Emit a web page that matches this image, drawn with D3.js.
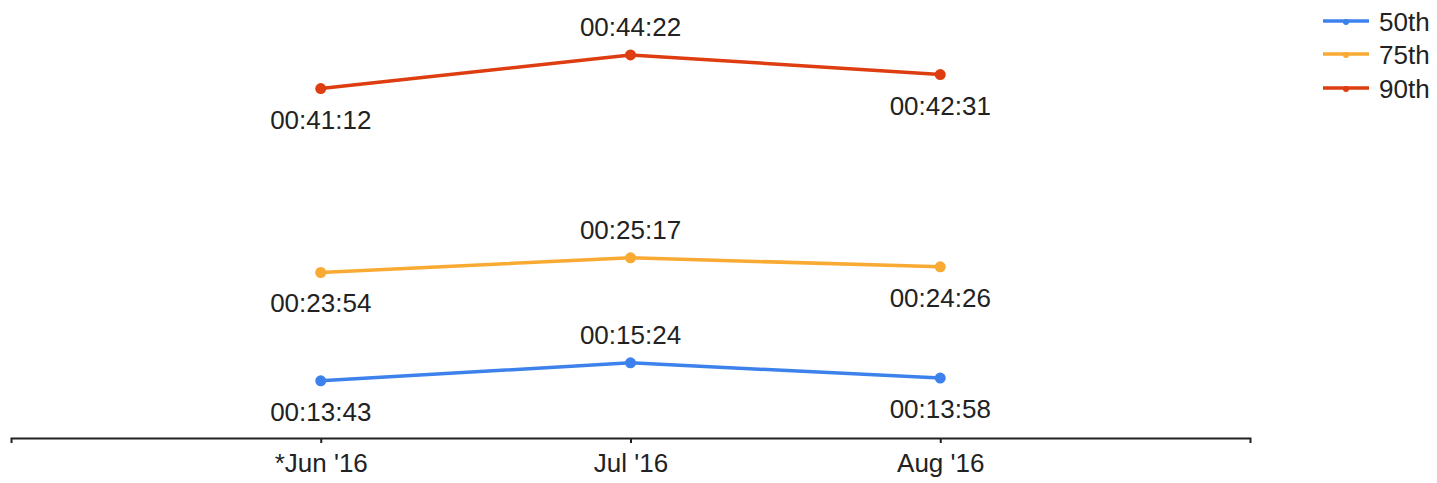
<!DOCTYPE html>
<html>
<head>
<meta charset="utf-8">
<script src="https://cdn.jsdelivr.net/npm/d3@7/dist/d3.min.js"></script>
<style>
  html, body { margin: 0; padding: 0; background: #fff; }
  svg { display: block; font-family: "Liberation Sans", Arial, sans-serif; }
</style>
</head>
<body>
<svg id="chart" width="1437" height="483"></svg>
<script>
// Months on the x axis
const months = ["*Jun '16", "Jul '16", "Aug '16"];

// Percentile durations, "hh:mm:ss"
const p50 = ["00:13:43", "00:15:24", "00:13:58"];
const p75 = ["00:23:54", "00:25:17", "00:24:26"];
const p90 = ["00:41:12", "00:44:22", "00:42:31"];

const seriesNames = ["50th", "75th", "90th"];
const seriesColors = ["#3d82ec", "#f9aa33", "#dd3d10"];

const toSeconds = s => s.split(":").reduce((acc, v) => acc * 60 + (+v), 0);

const series = [p50, p75, p90].map((vals, i) => ({
  name: seriesNames[i],
  color: seriesColors[i],
  points: vals.map((label, j) => ({ month: months[j], label, value: toSeconds(label) }))
}));

const FONT = "26px";
const svg = d3.select("#chart");

const x = d3.scalePoint().domain(months).range([11, 1250]).padding(1);
const y = d3.scaleLinear().domain([500, 3000]).range([438, -5]);

// x axis
const axis = svg.append("g")
  .attr("transform", "translate(0,438)")
  .call(d3.axisBottom(x).tickSize(5).tickSizeOuter(5).tickPadding(11));
axis.select(".domain").attr("stroke", "#222").attr("stroke-width", 2);
axis.selectAll(".tick line").attr("stroke", "#222").attr("stroke-width", 2);
axis.selectAll(".tick text")
  .attr("fill", "#222")
  .style("font-size", FONT)
  .style("font-family", "Liberation Sans, Arial, sans-serif");

const line = d3.line().x(d => x(d.month)).y(d => y(d.value));

series.forEach(s => {
  const g = svg.append("g");
  g.append("path")
    .datum(s.points)
    .attr("d", line)
    .attr("fill", "none")
    .attr("stroke", s.color)
    .attr("stroke-width", 3.5)
    .attr("stroke-linejoin", "round");
  g.selectAll("circle")
    .data(s.points)
    .join("circle")
    .attr("cx", d => x(d.month))
    .attr("cy", d => y(d.value))
    .attr("r", 5.5)
    .attr("fill", s.color);
  // value labels: middle point above, outer points below
  g.selectAll("text")
    .data(s.points)
    .join("text")
    .attr("x", d => x(d.month))
    .attr("y", (d, i) => i === 1 ? y(d.value) - 18.5 : y(d.value) + 40)
    .attr("text-anchor", "middle")
    .attr("fill", "#222")
    .style("font-size", FONT)
    .text(d => d.label);
});

// legend
const legend = svg.append("g");
const legendY = [21, 54, 88];
series.forEach((s, i) => {
  const ly = legendY[i];
  legend.append("line")
    .attr("x1", 1323).attr("x2", 1369)
    .attr("y1", ly).attr("y2", ly)
    .attr("stroke", s.color).attr("stroke-width", 3.5);
  legend.append("circle")
    .attr("cx", 1346).attr("cy", ly + 1).attr("r", 3)
    .attr("fill", s.color);
  legend.append("text")
    .attr("x", 1379).attr("y", ly + 9.5)
    .attr("fill", "#222")
    .style("font-size", FONT)
    .text(s.name);
});
</script>
</body>
</html>
